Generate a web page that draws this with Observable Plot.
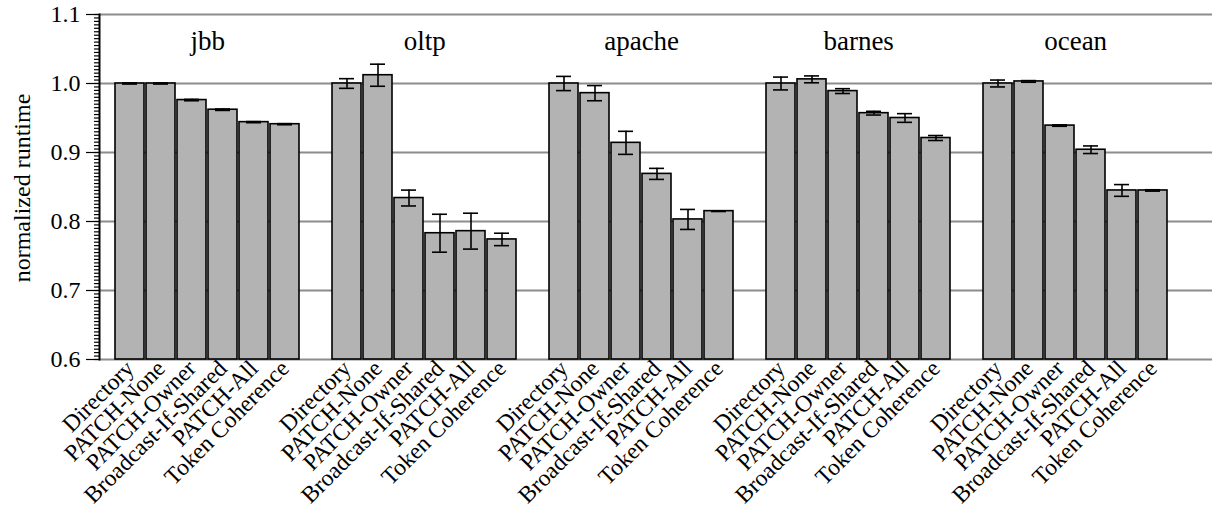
<!DOCTYPE html>
<html><head><meta charset="utf-8">
<script src="https://cdn.jsdelivr.net/npm/d3@7"></script>
<script src="https://cdn.jsdelivr.net/npm/@observablehq/plot@0.6"></script>
<style>
body{margin:0;background:#fff}
svg{display:block}
#chart svg, #chart svg text {font-family: "Liberation Serif", "Times New Roman", "DejaVu Serif", serif !important;}
</style>
</head><body><div id="chart"></div>
<script>
const groups = ["jbb", "oltp", "apache", "barnes", "ocean"];
const configs = ["Directory", "PATCH-None", "PATCH-Owner", "Broadcast-If-Shared", "PATCH-All", "Token Coherence"];

// normalized runtime per group (order of configs)
const jbb    = [1.000, 1.000, 0.976, 0.962, 0.944, 0.941];
const oltp   = [1.000, 1.012, 0.834, 0.783, 0.786, 0.774];
const apache = [1.000, 0.986, 0.914, 0.869, 0.803, 0.815];
const barnes = [1.000, 1.006, 0.989, 0.957, 0.950, 0.921];
const ocean  = [1.000, 1.003, 0.939, 0.904, 0.845, 0.845];

// error bar half-widths
const jbbErr    = [0.0008, 0.0008, 0.0010, 0.0010, 0.0008, 0.0008];
const oltpErr   = [0.0070, 0.0160, 0.0115, 0.0275, 0.0260, 0.0090];
const apacheErr = [0.0103, 0.0110, 0.0167, 0.0080, 0.0145, 0.0005];
const barnesErr = [0.0093, 0.0050, 0.0035, 0.0027, 0.0063, 0.0036];
const oceanErr  = [0.0050, 0.0012, 0.0010, 0.0055, 0.0085, 0.0010];

const yMajorTicks = [0.6, 0.7, 0.8, 0.9, 1.0, 1.1];
const yMinorTicks = d3.range(120, 221).map(d => d / 200);
const yLabel = "normalized runtime";

const values = [jbb, oltp, apache, barnes, ocean];
const errs = [jbbErr, oltpErr, apacheErr, barnesErr, oceanErr];

const rows = groups.flatMap((g, gi) => configs.map((c, ci) => ({
  key: `${g}|${c}`, group: g, config: c, value: values[gi][ci], err: errs[gi][ci]
})));
const xDomain = groups.flatMap((g, gi) => [
  ...configs.map(c => `${g}|${c}`),
  ...(gi < groups.length - 1 ? [`gap${gi}`] : [])
]);

const W = 1212, H = 513, mL = 99, mR = 0, mT = 14, mB = 154;
const pIn = 0.073, pOut = 0.83, align = 0.263;
const step = (W - mL - mR) / (xDomain.length - pIn + 2 * pOut);
const serif = "'Liberation Serif', 'Times New Roman', serif";

const chart = Plot.plot({
  width: W, height: H,
  marginLeft: mL, marginRight: mR, marginTop: mT, marginBottom: mB,
  style: {fontFamily: serif, fontSize: "24px", background: "#fff", color: "#000"},
  x: {type: "band", domain: xDomain, paddingInner: pIn, paddingOuter: pOut, align},
  y: {domain: [0.6, 1.1]},
  marks: [
    Plot.gridY(yMajorTicks, {stroke: "#8c8c8c", strokeOpacity: 1, strokeWidth: 2}),
    Plot.barY(rows, {x: "key", y1: 0.6, y2: "value", fill: "#b3b3b3", stroke: "#000", strokeWidth: 1.6}),
    Plot.ruleX(rows, {x: "key", y1: d => d.value - d.err, y2: d => d.value + d.err, stroke: "#000", strokeWidth: 1.6}),
    Plot.tickY(rows, {x: "key", y: d => d.value + d.err, insetLeft: 7, insetRight: 7, stroke: "#000", strokeWidth: 1.6}),
    Plot.tickY(rows, {x: "key", y: d => d.value - d.err, insetLeft: 7, insetRight: 7, stroke: "#000", strokeWidth: 1.6}),
    Plot.text(groups, {x: g => `${g}|${configs[2]}`, dx: step / 2, y: 1.049, text: d => d, lineAnchor: "bottom", fontSize: 27, fontFamily: serif}),
    Plot.axisY(yMinorTicks, {tickSize: 5, stroke: "#000", strokeWidth: 1.2, tickFormat: () => "", label: null}),
    Plot.axisY(yMajorTicks, {tickSize: 13, tickPadding: 6, strokeWidth: 1.2, tickFormat: d3.format(".1f"), fontSize: 24, fontFamily: serif, label: null}),
    Plot.text([yLabel], {frameAnchor: "left", rotate: -90, dx: -87, dy: 1, lineAnchor: "top", textAnchor: "middle", fontSize: 24, fontFamily: serif}),
    Plot.axisX({tickRotate: -45, tickSize: 0, tickPadding: 5, fontSize: 23.5, fontFamily: serif, label: null,
      tickFormat: d => d.startsWith("gap") ? "" : d.split("|")[1]}),
    Plot.frame({anchor: "left", stroke: "#000", strokeWidth: 2})
  ]
});
document.getElementById("chart").append(chart);
</script>
</body></html>
